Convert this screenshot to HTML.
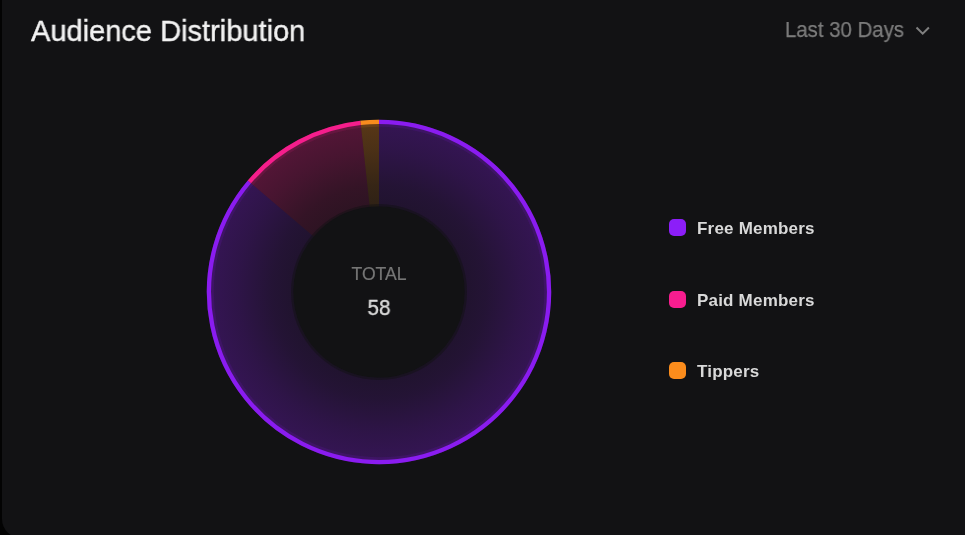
<!DOCTYPE html>
<html><head><meta charset="utf-8"><style>
html,body{-webkit-font-smoothing:antialiased;margin:0;padding:0;width:965px;height:535px;overflow:hidden;background:#030303;}
.card{position:absolute;left:2px;top:-30px;width:1000px;height:567.5px;background:#121214;border-radius:19px;filter:blur(0.7px);}
.title{will-change:transform;transform:scaleX(0.984);transform-origin:0 0;-webkit-text-stroke:0.4px #f2f2f2;position:absolute;left:30.5px;top:14px;font:29.5px "Liberation Sans",sans-serif;color:#f2f2f2;white-space:nowrap;}
.range{will-change:transform;transform:scaleX(0.94);-webkit-text-stroke:0.25px #7c7c7c;transform-origin:0 0;position:absolute;left:785.3px;top:17px;font:21.7px "Liberation Sans",sans-serif;color:#7c7c7c;white-space:nowrap;}
.total{will-change:transform;-webkit-text-stroke:0.2px #767676;position:absolute;left:0;width:758px;top:264.4px;text-align:center;font:17.6px "Liberation Sans",sans-serif;color:#767676;}
.num{will-change:transform;transform:scaleX(0.94);transform-origin:379px 0;-webkit-text-stroke:0.4px #dadada;position:absolute;left:0;width:758px;top:294.7px;text-align:center;font:22px "Liberation Sans",sans-serif;color:#dadada;}
.leg{will-change:transform;letter-spacing:0.2px;position:absolute;left:668px;font:bold 17px "Liberation Sans",sans-serif;color:#d9d9d9;white-space:nowrap;}
.leg i{position:absolute;left:0.7px;top:0.3px;width:17.2px;height:17.2px;border-radius:5px;}
.leg span{position:absolute;left:29px;top:-0.3px;}
</style></head><body>
<div class="card"></div>
<svg width="965" height="535" viewBox="0 0 965 535" style="position:absolute;left:0;top:0"><defs><radialGradient id="g0" gradientUnits="userSpaceOnUse" cx="379.0" cy="292.0" r="172.2"><stop offset="0.5" stop-color="rgb(138, 28, 240)" stop-opacity="0.120"/><stop offset="0.62" stop-color="rgb(138, 28, 240)" stop-opacity="0.150"/><stop offset="0.82" stop-color="rgb(138, 28, 240)" stop-opacity="0.235"/><stop offset="0.97" stop-color="rgb(138, 28, 240)" stop-opacity="0.285"/><stop offset="1.0" stop-color="rgb(138, 28, 240)" stop-opacity="0.290"/></radialGradient><radialGradient id="g1" gradientUnits="userSpaceOnUse" cx="379.0" cy="292.0" r="172.2"><stop offset="0.5" stop-color="rgb(245, 30, 140)" stop-opacity="0.120"/><stop offset="0.62" stop-color="rgb(245, 30, 140)" stop-opacity="0.150"/><stop offset="0.82" stop-color="rgb(245, 30, 140)" stop-opacity="0.235"/><stop offset="0.97" stop-color="rgb(245, 30, 140)" stop-opacity="0.285"/><stop offset="1.0" stop-color="rgb(245, 30, 140)" stop-opacity="0.290"/></radialGradient><radialGradient id="g2" gradientUnits="userSpaceOnUse" cx="379.0" cy="292.0" r="172.2"><stop offset="0.5" stop-color="rgb(248, 140, 30)" stop-opacity="0.126"/><stop offset="0.62" stop-color="rgb(248, 140, 30)" stop-opacity="0.158"/><stop offset="0.82" stop-color="rgb(248, 140, 30)" stop-opacity="0.247"/><stop offset="0.97" stop-color="rgb(248, 140, 30)" stop-opacity="0.299"/><stop offset="1.0" stop-color="rgb(248, 140, 30)" stop-opacity="0.304"/></radialGradient></defs><path d="M379.00,119.80 A172.2,172.2 0 1 1 247.76,180.52 L313.61,236.45 A85.8,85.8 0 1 0 379.00,206.20 Z" fill="url(#g0)"/><path d="M247.76,180.52 A172.2,172.2 0 0 1 360.38,120.81 L369.72,206.70 A85.8,85.8 0 0 0 313.61,236.45 Z" fill="url(#g1)"/><path d="M360.38,120.81 A172.2,172.2 0 0 1 379.00,119.80 L379.00,206.20 A85.8,85.8 0 0 0 369.72,206.70 Z" fill="url(#g2)"/><circle cx="379.0" cy="292.0" r="86.8" fill="none" stroke="#121214" stroke-opacity="0.5" stroke-width="2.4"/><path d="M379.00,125.30 A166.7,166.7 0 1 1 251.95,184.08" fill="none" stroke="rgb(138, 28, 240)" stroke-opacity="0.12" stroke-width="3"/><path d="M379.00,121.95 A170.04999999999998,170.04999999999998 0 1 1 249.39,181.91" fill="none" stroke="rgb(138, 28, 240)" stroke-width="4.3"/><path d="M251.95,184.08 A166.7,166.7 0 0 1 360.98,126.28" fill="none" stroke="rgb(245, 30, 140)" stroke-opacity="0.12" stroke-width="3"/><path d="M249.39,181.91 A170.04999999999998,170.04999999999998 0 0 1 360.61,122.95" fill="none" stroke="rgb(245, 30, 140)" stroke-width="4.3"/><path d="M360.98,126.28 A166.7,166.7 0 0 1 379.00,125.30" fill="none" stroke="rgb(248, 140, 30)" stroke-opacity="0.12" stroke-width="3"/><path d="M360.61,122.95 A170.04999999999998,170.04999999999998 0 0 1 379.00,121.95" fill="none" stroke="rgb(248, 140, 30)" stroke-width="4.3"/></svg>
<div class="title">Audience Distribution</div>
<div class="range">Last 30 Days</div>
<svg width="965" height="535" style="position:absolute;left:0;top:0"><path d="M916.5,27.5 L922.7,33.7 L928.9,27.5" fill="none" stroke="#808080" stroke-width="2"/></svg>
<div class="total">TOTAL</div>
<div class="num">58</div>
<div class="leg" style="top:219px"><i style="background:#8c1ef8"></i><span>Free Members</span></div>
<div class="leg" style="top:290.5px"><i style="background:#f81d8f"></i><span>Paid Members</span></div>
<div class="leg" style="top:362px"><i style="background:#fb8c1c"></i><span>Tippers</span></div>
</body></html>
